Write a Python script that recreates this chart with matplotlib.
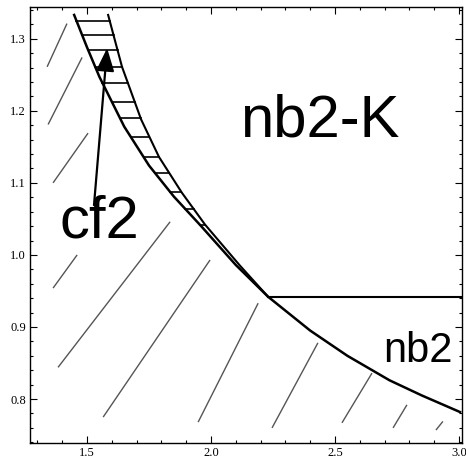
import numpy as np
import matplotlib
matplotlib.use("Agg")
import matplotlib.pyplot as plt
from matplotlib.ticker import MultipleLocator

# lower boundary of the cf2 band, continuing into the nb2 boundary
lower_x = [1.448, 1.5, 1.55, 1.65, 1.75, 1.85, 1.96, 2.10, 2.23, 2.40, 2.55, 2.72, 2.85, 3.004]
lower_y = [1.333, 1.288, 1.247, 1.178, 1.124, 1.081, 1.040, 0.986, 0.942, 0.895, 0.860, 0.826, 0.805, 0.782]

# upper boundary of the cf2 band
upper_x = [1.585, 1.641, 1.718, 1.790, 1.883, 1.976, 2.117, 2.23]
upper_y = [1.333, 1.261, 1.188, 1.136, 1.086, 1.042, 0.985, 0.942]

# horizontal rungs inside the band
rung_y = [1.325, 1.305, 1.284, 1.261, 1.239, 1.212, 1.190, 1.164, 1.136, 1.114, 1.088, 1.064, 1.042]

# horizontal nb2 / nb2-K border
border_x = [2.23, 3.02]
border_y = [0.942, 0.942]

# diagonal hatch strokes in the lower-left region (x0, y0, x1, y1)
hatch = [
    (1.339, 1.261, 1.419, 1.321),
    (1.343, 1.181, 1.480, 1.274),
    (1.363, 1.100, 1.504, 1.169),
    (1.363, 0.954, 1.460, 1.000),
    (1.383, 0.844, 1.835, 1.046),
    (1.565, 0.775, 1.996, 0.993),
    (1.948, 0.768, 2.190, 0.933),
    (2.246, 0.760, 2.431, 0.878),
    (2.528, 0.767, 2.649, 0.836),
    (2.734, 0.760, 2.790, 0.792),
    (2.907, 0.757, 2.935, 0.769),
]

# arrow from the cf2 label into the band
arrow_start = (1.528, 1.069)
arrow_end = (1.581, 1.287)

x_ticks = [1.5, 2.0, 2.5, 3.0]
y_ticks = [0.8, 0.9, 1.0, 1.1, 1.2, 1.3]

fig = plt.figure(figsize=(4.66, 4.61), dpi=100)
ax = fig.add_axes([0.0644, 0.039, 0.927, 0.9458])

ax.set_xlim(1.27, 3.012)
ax.set_ylim(0.739, 1.344)

for x0, y0, x1, y1 in hatch:
    ax.plot([x0, x1], [y0, y1], color="#555555", lw=1.0, solid_capstyle="butt")

ax.plot(lower_x, lower_y, color="black", lw=1.8)
ax.plot(upper_x, upper_y, color="black", lw=1.5)
ax.plot(border_x, border_y, color="black", lw=1.5)

# rungs: find where each level meets the two band edges
lx_r, ly_r = np.array(lower_x[::-1]), np.array(lower_y[::-1])
ux_r, uy_r = np.array(upper_x[::-1]), np.array(upper_y[::-1])
for yy in rung_y:
    xa = np.interp(yy, ly_r, lx_r)
    xb = np.interp(yy, uy_r, ux_r)
    ax.plot([xa, xb], [yy, yy], color="black", lw=1.2)

ax.annotate("", xy=arrow_end, xytext=arrow_start,
            arrowprops=dict(arrowstyle="-|>,head_length=1.4,head_width=0.55",
                            color="black", lw=1.6, shrinkA=0, shrinkB=0))

sans = "Liberation Sans"
ax.text(1.548, 1.045, "cf2", fontsize=43, family=sans, ha="center", va="center")
ax.text(2.44, 1.186, "nb2-K", fontsize=43, family=sans, ha="center", va="center")
ax.text(2.836, 0.866, "nb2", fontsize=30, family=sans, ha="center", va="center")

ax.set_xticks(x_ticks)
ax.set_yticks(y_ticks)
ax.xaxis.set_minor_locator(MultipleLocator(0.1))
ax.yaxis.set_minor_locator(MultipleLocator(0.02))
ax.tick_params(which="both", direction="in", top=True, right=True,
               labelsize=9, pad=3, width=0.8)
ax.tick_params(which="major", length=5)
ax.tick_params(which="minor", length=2.5)
for lab in ax.get_xticklabels() + ax.get_yticklabels():
    lab.set_family("Liberation Serif")
for s in ax.spines.values():
    s.set_linewidth(1.0)

fig.savefig("out.png", dpi=100)
